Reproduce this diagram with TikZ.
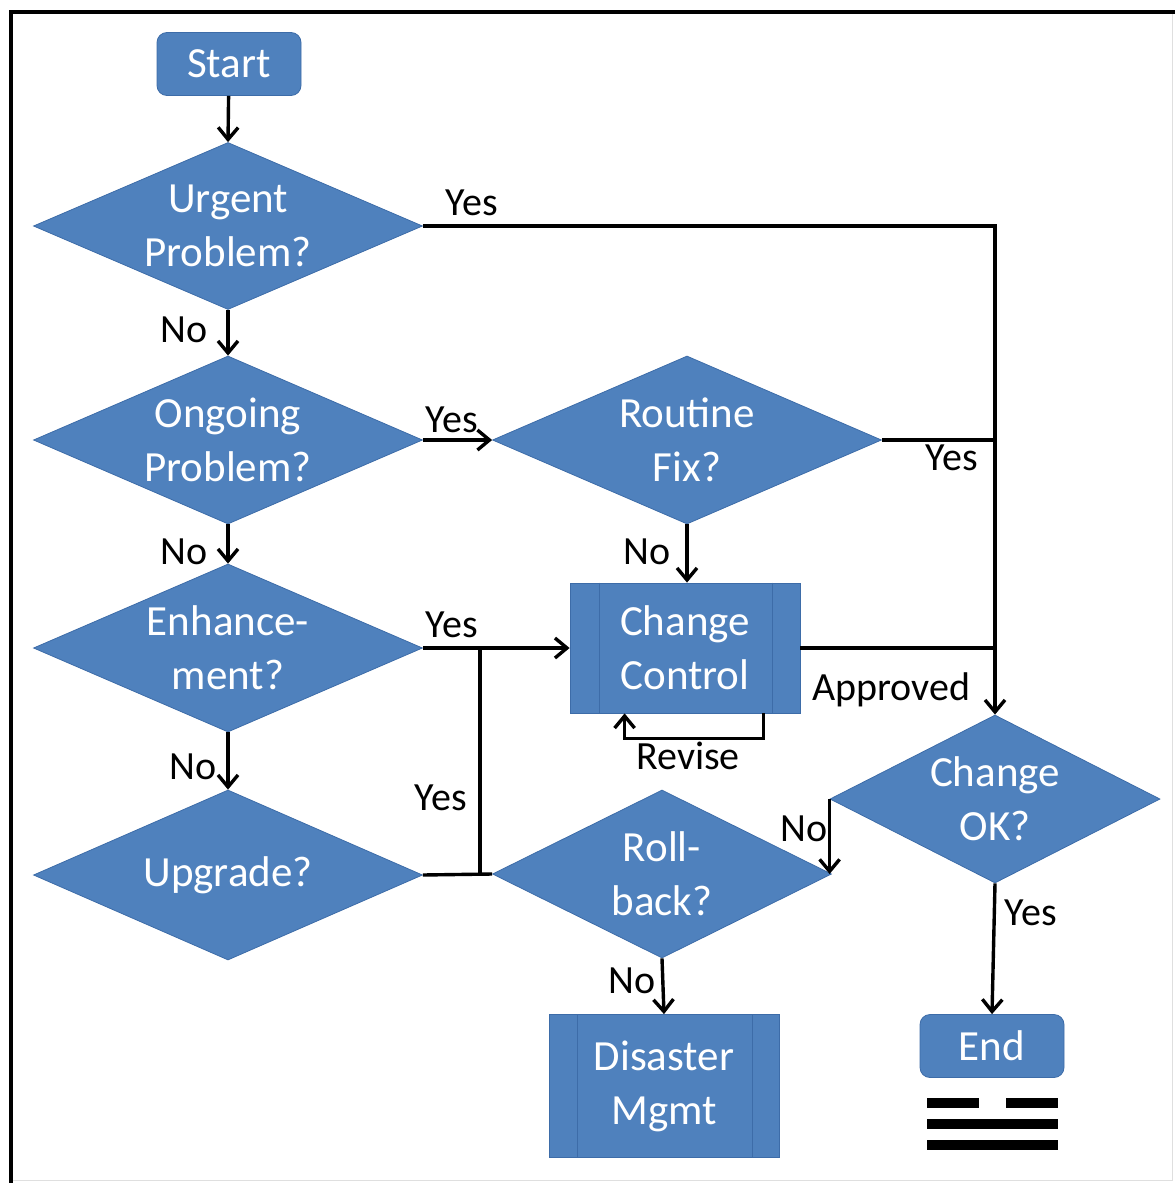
\documentclass[tikz,border=0pt]{standalone}
\usepackage{fontspec}
\setmainfont{Carlito}
\usetikzlibrary{shapes.geometric,arrows.meta}
\definecolor{boxblue}{HTML}{4F81BD}
\definecolor{boxedge}{HTML}{3D6CA8}
\begin{document}
\begin{tikzpicture}[x=0.5pt,y=-0.5pt,
  dia/.style={diamond,fill=boxblue,draw=boxedge,line width=0.4pt,inner sep=0pt},
  txt/.style={text=white,align=center,font=\fontsize{21.5}{27}\selectfont},
  lbl/.style={anchor=base,font=\fontsize{20}{24}\selectfont,inner sep=0pt},
  term/.style={rectangle,rounded corners=5pt,fill=boxblue,draw=boxedge,line width=0.4pt,
    minimum width=72pt,minimum height=31.5pt,inner sep=2pt,text=white,font=\fontsize{21.5}{24}\selectfont},
  proc/.style={rectangle,fill=boxblue,draw=boxedge,line width=0.4pt,minimum width=115pt,
    inner sep=2pt,text=white,align=center,font=\fontsize{21.5}{27}\selectfont},
  inner/.style={draw=boxedge,line width=0.6pt},
  ln/.style={line width=1.7pt},
  arr/.style={ln,-{Straight Barb[length=6pt,width=10pt]}}]
\useasboundingbox (0,0) rectangle (1175,1183);
% frame
\draw[gray!25,line width=0.5pt] (1172,12) -- (1172,1180) -- (11,1180);
\draw[line width=2.3pt] (11,1183) -- (11,12) -- (1175,12);

% nodes
\node[term] (start) at (229,64) {Start};
\node[dia,minimum width=194.5pt,minimum height=83.5pt] (urg) at (228,226) {};
\node[txt] (urgt) at (urg) {Urgent\\Problem?};
\node[dia,minimum width=194.5pt,minimum height=84pt] (ong) at (228,440) {};
\node[txt] (ongt) at (ong) {Ongoing\\Problem?};
\node[dia,minimum width=194.5pt,minimum height=84pt] (enh) at (228,648) {};
\node[txt] (enht) at (enh) {Enhance-\\ment?};
\node[dia,minimum width=194.5pt,minimum height=85pt] (upg) at (228,875) {};
\node[txt] (upgt) at (upg) {Upgrade?};
\node[dia,minimum width=194.5pt,minimum height=84pt] (rt) at (687,440) {};
\node[txt] (rtt) at (rt) {Routine\\Fix?};
\node[proc,minimum height=65pt] (cc) at (685,648) {Change\\Control};
\draw[inner] ([xshift=15pt]cc.north west) -- ([xshift=15pt]cc.south west);
\draw[inner] ([xshift=-14pt]cc.north east) -- ([xshift=-14pt]cc.south east);
\node[dia,minimum width=169.5pt,minimum height=84pt] (rb) at (662,874) {};
\node[txt] (rbt) at (rb) {Roll-\\back?};
\node[dia,minimum width=165pt,minimum height=84pt] (cok) at (995,799) {};
\node[txt] (cokt) at (cok) {Change\\OK?};
\node[term] (end) at (992,1046) {End};
\node[proc,minimum height=71.5pt] (dis) at (664,1086) {Disaster\\Mgmt};
\draw[inner] ([xshift=14.5pt]dis.north west) -- ([xshift=14.5pt]dis.south west);
\draw[inner] ([xshift=-13.5pt]dis.north east) -- ([xshift=-13.5pt]dis.south east);

% symbol under End
\fill (927,1098) rectangle (979,1108);
\fill (1006,1098) rectangle (1058,1108);
\fill (927,1119) rectangle (1058,1129);
\fill (927,1140) rectangle (1058,1150);

% junction coordinates
\coordinate (j1) at (995,226);
\coordinate (j2) at (995,440);
\coordinate (j3) at (995,648);
\coordinate (j4) at (480,648);
\coordinate (j5) at (480,875);

% connectors
\draw[arr] (start) -- (urg.north);
\draw[arr] (urg.east) -- (j1) -- (cok.north);
\draw[arr] (urg.south) -- (ong.north);
\draw[arr] (ong.east) -- (rt.west);
\draw[arr] (ong.south) -- (enh.north);
\draw[ln] (rt.east) -- (j2);
\draw[arr] (rt.south) -- (rt.south |- cc.north);
\draw[arr] (enh.east) -- (cc.west);
\draw[arr] (enh.south) -- (upg.north);
\draw[ln] (upg.east) -- (rb.west);
\draw[ln] (j5) -- (j4);
\draw[ln] (cc.east) -- (j3);
\draw[arr] ([xshift=-18.5pt]cc.south east) -- ++(0,25) -| ([xshift=27.5pt]cc.south west);
\draw[arr] (cok.west) -- (cok.west |- rb.east);
\draw[arr] (cok.south) -- (end.north);
\draw[arr] (rb.south) -- (dis.north);

% labels
\node[lbl] (l1) at (472,215) {Yes};
\node[lbl] (l2) at (184,342) {No};
\node[lbl] (l3) at (452,432) {Yes};
\node[lbl] (l4) at (184,564) {No};
\node[lbl] (l5) at (952,470) {Yes};
\node[lbl] (l6) at (647,564) {No};
\node[lbl] (l7) at (452,637) {Yes};
\node[lbl] (l8) at (891,700) {Approved};
\node[lbl] (l9) at (688,769) {Revise};
\node[lbl] (l10) at (193,779) {No};
\node[lbl] (l11) at (441,810) {Yes};
\node[lbl] (l12) at (804,841) {No};
\node[lbl] (l13) at (1031,925) {Yes};
\node[lbl] (l14) at (632,993) {No};
\end{tikzpicture}
\end{document}
